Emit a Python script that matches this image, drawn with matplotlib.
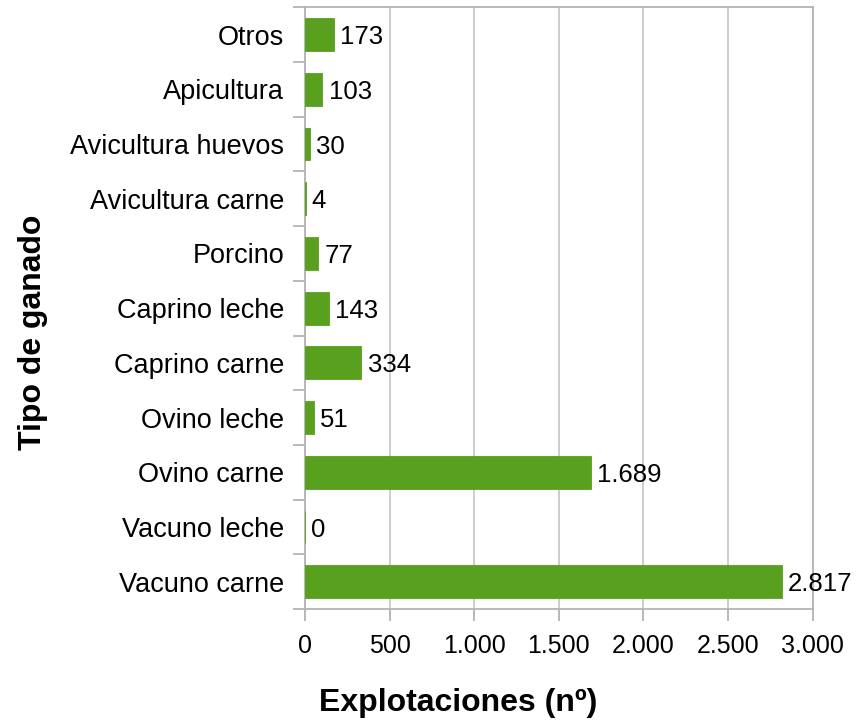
import matplotlib
matplotlib.use('Agg')
import matplotlib.pyplot as plt
from matplotlib.ticker import FuncFormatter

plt.rcParams['font.family'] = ['Liberation Sans', 'DejaVu Sans']

categorias = ['Vacuno carne', 'Vacuno leche', 'Ovino carne', 'Ovino leche',
              'Caprino carne', 'Caprino leche', 'Porcino', 'Avicultura carne',
              'Avicultura huevos', 'Apicultura', 'Otros']
explotaciones = [2817, 0, 1689, 51, 334, 143, 77, 4, 30, 103, 173]


def miles(v, pos=None):
    return '{:,.0f}'.format(v).replace(',', '.')


fig = plt.figure(figsize=(8.59, 7.2), dpi=100)
ax = fig.add_axes([0.355, 0.154, 0.591, 0.836])

gris = '#b3b3b3'
pos = range(len(categorias))
# borde fino para que se vea la barra de valor 0
ax.barh(pos, explotaciones, height=0.6, color='#58a01e',
        edgecolor='#58a01e', linewidth=0.6, zorder=3)
for y, v in zip(pos, explotaciones):
    ax.annotate(miles(v), (v, y), xytext=(4.5, 0), textcoords='offset points',
                va='center_baseline', ha='left', fontsize=18.5)

ax.set_xlim(0, 3000)
ax.set_ylim(-0.5, len(categorias) - 0.5)
ax.set_xticks(range(0, 3001, 500))
ax.xaxis.set_major_formatter(FuncFormatter(miles))
ax.set_yticks(list(pos))
ax.set_yticklabels(categorias)
ax.set_yticks([i - 0.5 for i in range(len(categorias) + 1)], minor=True)
ax.tick_params(axis='y', which='major', length=0, labelsize=19.5, pad=15)
ax.tick_params(axis='y', which='minor', length=8.6, color=gris, width=1.3)
ax.tick_params(axis='x', length=8.6, color=gris, width=1.3, labelsize=18, pad=9)

ax.grid(axis='x', color='#c8c8c8', linewidth=1.3, zorder=0)
for s in ax.spines.values():
    s.set_color(gris)
    s.set_linewidth(1.3)

fig.text(458 / 859, 1 - 703 / 720, 'Explotaciones (nº)', fontsize=23,
         fontweight='bold', ha='center', va='center')
fig.text(33 / 859, 1 - 332 / 720, 'Tipo de ganado', fontsize=23,
         fontweight='bold', ha='center', va='center', rotation=90)

fig.savefig('out.png', dpi=100)
